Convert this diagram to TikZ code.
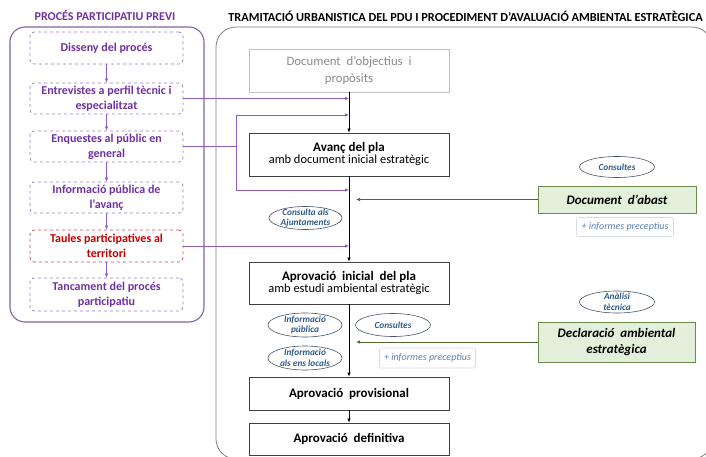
\documentclass[tikz,border=0pt]{standalone}
\usepackage{fontspec}
\setmainfont{Carlito}
\usetikzlibrary{arrows.meta,shapes.geometric}
\definecolor{purp}{HTML}{7030A0}
\definecolor{pdash}{HTML}{9C7CC4}
\definecolor{ppanel}{HTML}{8064A2}
\definecolor{pline}{HTML}{8E5BC2}
\definecolor{redt}{HTML}{C00000}
\definecolor{redd}{HTML}{C0504D}
\definecolor{mgray}{HTML}{404040}
\definecolor{lgray}{HTML}{BFBFBF}
\definecolor{tgray}{HTML}{8A8A8A}
\definecolor{pgray}{HTML}{7F7F7F}
\definecolor{ellb}{HTML}{44546A}
\definecolor{ellt}{HTML}{2E5A88}
\definecolor{inft}{HTML}{5A7FB5}
\definecolor{infb}{HTML}{D5DCE4}
\definecolor{gfill}{HTML}{E2EFDA}
\definecolor{gbord}{HTML}{6E8B4E}
\definecolor{gline}{HTML}{4E6B2E}
\tikzset{
  lbox/.style={draw=pdash, dashed, line width=0.8pt, rounded corners=4pt, minimum width=153pt, align=center, text=purp, inner sep=1pt, font=\bfseries\fontsize{12}{15}\selectfont},
  mbox/.style={draw=mgray, line width=0.8pt, minimum width=200pt, align=center, inner sep=1pt},
  gbox/.style={draw=gbord, fill=gfill, line width=0.8pt, align=center, inner sep=1pt, font=\bfseries\itshape\fontsize{13}{16}\selectfont},
  ell/.style={ellipse, draw=ellb, line width=0.6pt, inner sep=0pt},
  elltxt/.style={inner sep=0pt, align=center, text=ellt, font=\bfseries\itshape\fontsize{9.3}{10.5}\selectfont},
  infbox/.style={draw=infb, line width=0.6pt, rounded corners=2pt, inner sep=0pt, text=inft, font=\itshape\fontsize{10}{12}\selectfont},
  parr/.style={draw=pline, line width=0.7pt, -{Latex[length=4pt,width=3.5pt]}},
  pl/.style={draw=pline, line width=0.7pt},
  barr/.style={draw=black, line width=0.7pt, -{Latex[length=4pt,width=3.5pt]}},
  garr/.style={draw=gline, line width=0.7pt, -{Latex[length=4pt,width=3.5pt]}},
}
\begin{document}
\begin{tikzpicture}[x=1pt,y=-1pt]
\useasboundingbox (0,0) rectangle (706,457);
\clip (0,0) rectangle (706,457);
% panels
\draw[ppanel, line width=1.1pt, rounded corners=15pt] (10,27) rectangle (204,322);
\draw[pgray, line width=0.8pt, rounded corners=20pt] (216,27) rectangle (712,459);
% titles
\node[text=purp, font=\bfseries\fontsize{12}{14}\selectfont] (tl) at (105,16) {PROCÉS PARTICIPATIU PREVI};
\node[font=\bfseries\fontsize{12.3}{14}\selectfont] (tr) at (465.5,16) {TRAMITACIÓ URBANISTICA DEL PDU I PROCEDIMENT D’AVALUACIÓ AMBIENTAL ESTRATÈGICA};
% left boxes
\node[lbox, minimum height=32pt] (dis) at (106.5,48) {Disseny del procés};
\node[lbox, minimum height=31pt] (ent) at (106.5,98.5) {Entrevistes a perfil tècnic i\\especialitzat};
\node[lbox, minimum height=31pt] (enq) at (106.5,146.5) {Enquestes al públic en\\general};
\node[lbox, minimum height=31pt] (inf) at (106.5,197.5) {Informació pública de\\l’avanç};
\node[lbox, draw=redd, text=redt, minimum height=32pt] (tau) at (106.5,246) {Taules participatives al\\territori};
\node[lbox, minimum height=33pt] (tan) at (106.5,294.5) {Tancament del procés\\participatiu};
\foreach \a/\b in {dis/ent, ent/enq, enq/inf, inf/tau, tau/tan}
  \draw[parr] (\a.south) -- (\b.north);
% main boxes
\node[mbox, draw=lgray, text=tgray, minimum height=43pt, font=\fontsize{12.8}{17}\selectfont] (doc) at (349,70.5) {Document\ \ d’objectius\ \ i\\propòsits};
\node[mbox, minimum height=43pt] (ava) at (349,154.5) {{\bfseries\fontsize{13}{16}\selectfont Avanç del pla}\\{\fontsize{12.4}{15}\selectfont amb document inicial estratègic}};
\node[mbox, minimum height=42pt] (ini) at (349,283) {{\bfseries\fontsize{13}{16}\selectfont Aprovació\ \ inicial\ \ del pla}\\{\fontsize{12.4}{15}\selectfont amb estudi ambiental estratègic}};
\node[mbox, minimum height=33pt, font=\bfseries\fontsize{13}{16}\selectfont] (pro) at (349,393.5) {Aprovació\ \ provisional};
\node[mbox, minimum height=32pt, font=\bfseries\fontsize{13}{16}\selectfont] (def) at (349,439) {Aprovació\ \ definitiva};
\draw[barr] (doc.south) -- (ava.north);
\draw[barr] (ava.south) -- (ini.north);
\draw[barr] (ini.south) -- (pro.north);
\draw[barr] (pro.south) -- (def.north);
% purple connectors
\coordinate (j1) at (236,115);
\coordinate (j2) at (236,190);
\draw[parr] (ent.east) -- (ent.east -| doc.south);
\draw[pl] (enq.east) -- (enq.east -| j1);
\draw[pl] (j1) -- (j2);
\draw[parr] (j1) -- (j1 -| doc.south);
\draw[parr] (j2) -- (j2 -| doc.south);
\draw[parr] (tau.east) -- (tau.east -| doc.south);
% green boxes
\node[gbox, minimum width=158pt, minimum height=27pt] (aba) at (617,199.5) {Document\ \ d’abast};
\node[gbox, minimum width=157pt, minimum height=40pt] (dec) at (616.5,342) {Declaració\ \ ambiental\\estratègica};
\coordinate (ga) at (356,199.5);
\coordinate (gd) at (356,342);
\draw[garr] (aba.west) -- (ga);
\draw[garr] (dec.west) -- (gd);
% ellipses and notes
\node[ell, minimum width=75pt, minimum height=21pt] (con1) at (617,167) {};
\node[elltxt] (con1t) at (con1.center) {Consultes};
\node[infbox, minimum width=97pt, minimum height=19pt] (pi1) at (625,227) {+ informes preceptius};
\node[ell, minimum width=75pt, minimum height=22pt] (ana) at (617,302) {};
\node[elltxt] (anat) at (ana.center) {Anàlisi\\tècnica};
\node[ell, minimum width=73pt, minimum height=23pt] (caj) at (305.5,218) {};
\node[elltxt] (cajt) at (caj.center) {Consulta als\\Ajuntaments};
\node[ell, minimum width=74pt, minimum height=24pt] (ipu) at (305,325) {};
\node[elltxt] (iput) at (ipu.center) {Informació\\pública};
\node[ell, minimum width=74pt, minimum height=24pt] (ien) at (305,358) {};
\node[elltxt] (ient) at (ien.center) {Informació\\als ens locals};
\node[ell, minimum width=75pt, minimum height=23pt] (con2) at (393,325) {};
\node[elltxt] (con2t) at (con2.center) {Consultes};
\node[infbox, minimum width=96pt, minimum height=20pt] (pi2) at (427.5,358) {+ informes preceptius};
\end{tikzpicture}
\end{document}
